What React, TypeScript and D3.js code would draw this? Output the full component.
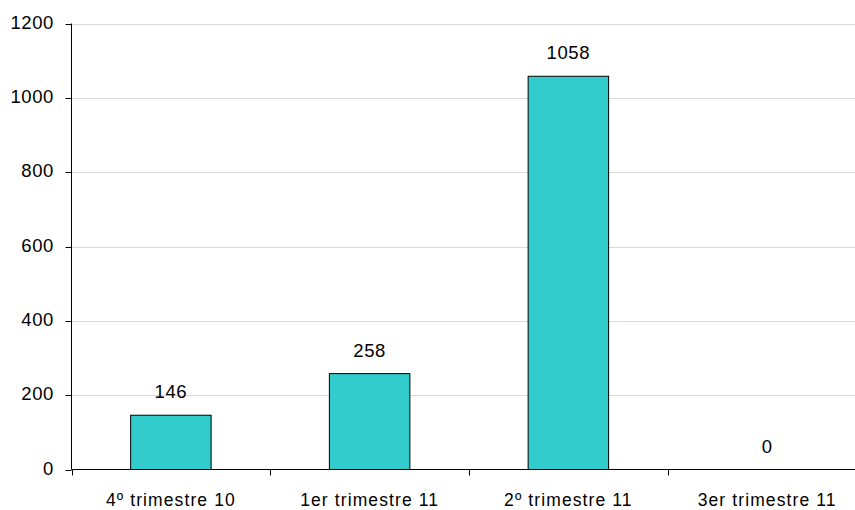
import React from "react";
import * as d3 from "d3";

const categories = ["4º trimestre 10", "1er trimestre 11", "2º trimestre 11", "3er trimestre 11"];
const values = [146, 258, 1058, 0];
const yTicks = [0, 200, 400, 600, 800, 1000, 1200];

export default function App() {
  const W = 855, H = 510;
  const left = 71.5, right = 866.5, top = 23.5, bottom = 469.5;
  const x = d3.scaleBand<string>().domain(categories).range([left, right]).paddingInner(0).paddingOuter(0);
  const y = d3.scaleLinear().domain([0, 1200]).range([bottom, top]);
  const bw = x.bandwidth() * 0.405;
  const font = "'Liberation Sans', Arial, sans-serif";
  return (
    <svg width={W} height={H} style={{ position: "absolute", left: 0, top: 0, background: "#fff" }} fontFamily={font}>
      {yTicks.filter(t => t > 0).map(t => (
        <line key={"g" + t} x1={left} x2={W} y1={Math.round(y(t)) + 0.5} y2={Math.round(y(t)) + 0.5} stroke="#d9d9d9" strokeWidth={1} />
      ))}
      {categories.map((c, i) => {
        const v = values[i];
        const cx = x(c)! + x.bandwidth() / 2;
        return (
          <g key={c}>
            {v > 0 && (
              <rect x={cx - bw / 2} y={y(v)} width={bw} height={y(0) - y(v)} fill="#33CCCC" stroke="#000" strokeWidth={1} />
            )}
            <text x={cx} y={y(v) - 17} textAnchor="middle" fontSize={18.5} letterSpacing={0.6} fill="#000">{v}</text>
            <text x={cx} y={506} textAnchor="middle" fontSize={17.5} letterSpacing={1.1} fill="#000">{c}</text>
          </g>
        );
      })}
      <line x1={left} x2={left} y1={top} y2={bottom} stroke="#000" strokeWidth={1} />
      <line x1={left} x2={W} y1={bottom} y2={bottom} stroke="#000" strokeWidth={1} />
      {yTicks.map(t => (
        <g key={"t" + t}>
          <line x1={left - 6} x2={left} y1={Math.round(y(t)) + 0.5} y2={Math.round(y(t)) + 0.5} stroke="#000" />
          <text x={54} y={y(t) + 5} textAnchor="end" fontSize={18.5} letterSpacing={0.6} fill="#000">{t}</text>
        </g>
      ))}
      {categories.map((c, i) => (
        <line key={"xt" + i} x1={Math.round(x(c)!) + 0.5} x2={Math.round(x(c)!) + 0.5} y1={bottom} y2={bottom + 6} stroke="#000" />
      ))}
    </svg>
  );
}
